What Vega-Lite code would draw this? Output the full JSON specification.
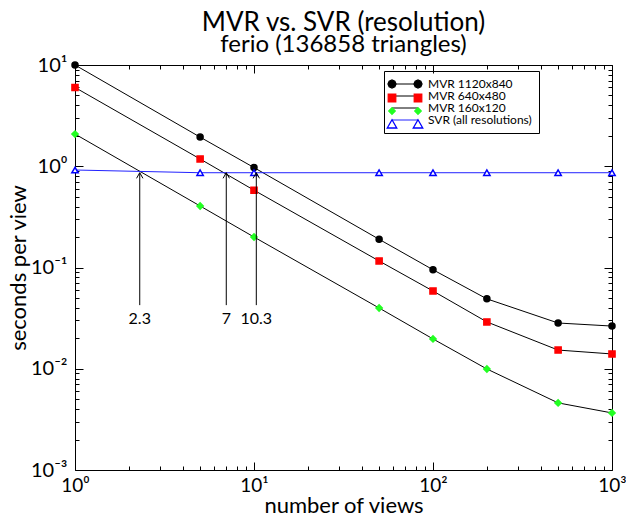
{
  "$schema": "https://vega.github.io/schema/vega-lite/v6.json",
  "width": 537,
  "height": 405,
  "autosize": {"type": "none"},
  "padding": {"left": 75, "top": 65, "right": 14, "bottom": 52},
  "background": "white",
  "title": {
    "text": "MVR vs. SVR (resolution)",
    "subtitle": "ferio (136858 triangles)",
    "font": "Lato",
    "subtitleFont": "Lato",
    "fontSize": 26,
    "subtitleFontSize": 24,
    "fontWeight": "normal",
    "color": "black",
    "subtitleColor": "black",
    "subtitlePadding": -3,
    "anchor": "middle",
    "offset": -2
  },
  "datasets": {
    "perf": [
      {"series": "MVR 1120x840", "views": 1, "spv": 10},
      {"series": "MVR 1120x840", "views": 5, "spv": 1.94},
      {"series": "MVR 1120x840", "views": 10, "spv": 0.97},
      {"series": "MVR 1120x840", "views": 50, "spv": 0.19},
      {"series": "MVR 1120x840", "views": 100, "spv": 0.095},
      {"series": "MVR 1120x840", "views": 200, "spv": 0.049},
      {"series": "MVR 1120x840", "views": 500, "spv": 0.0283},
      {"series": "MVR 1120x840", "views": 1000, "spv": 0.0264},
      {"series": "MVR 640x480", "views": 1, "spv": 6.0},
      {"series": "MVR 640x480", "views": 5, "spv": 1.18},
      {"series": "MVR 640x480", "views": 10, "spv": 0.58},
      {"series": "MVR 640x480", "views": 50, "spv": 0.116},
      {"series": "MVR 640x480", "views": 100, "spv": 0.0586},
      {"series": "MVR 640x480", "views": 200, "spv": 0.029},
      {"series": "MVR 640x480", "views": 500, "spv": 0.0153},
      {"series": "MVR 640x480", "views": 1000, "spv": 0.014},
      {"series": "MVR 160x120", "views": 1, "spv": 2.08},
      {"series": "MVR 160x120", "views": 5, "spv": 0.405},
      {"series": "MVR 160x120", "views": 10, "spv": 0.2},
      {"series": "MVR 160x120", "views": 50, "spv": 0.0398},
      {"series": "MVR 160x120", "views": 100, "spv": 0.0197},
      {"series": "MVR 160x120", "views": 200, "spv": 0.00995},
      {"series": "MVR 160x120", "views": 500, "spv": 0.0046},
      {"series": "MVR 160x120", "views": 1000, "spv": 0.00366},
      {"series": "SVR (all resolutions)", "views": 1, "spv": 0.918},
      {"series": "SVR (all resolutions)", "views": 5, "spv": 0.863},
      {"series": "SVR (all resolutions)", "views": 10, "spv": 0.863},
      {"series": "SVR (all resolutions)", "views": 50, "spv": 0.863},
      {"series": "SVR (all resolutions)", "views": 100, "spv": 0.863},
      {"series": "SVR (all resolutions)", "views": 200, "spv": 0.863},
      {"series": "SVR (all resolutions)", "views": 500, "spv": 0.863},
      {"series": "SVR (all resolutions)", "views": 1000, "spv": 0.863}
    ],
    "arrows": [
      {"x": 2.3, "lo": 0.0425, "hi": 0.863, "label": "2.3"},
      {"x": 7, "lo": 0.0425, "hi": 0.863, "label": "7"},
      {"x": 10.3, "lo": 0.0425, "hi": 0.863, "label": "10.3"}
    ]
  },
  "layer": [
    {
      "data": {"name": "perf"},
      "mark": {"type": "line", "strokeWidth": 1},
      "encoding": {
        "x": {"field": "views", "type": "quantitative", "scale": {"type": "log", "domain": [1, 1000]},
          "axis": {"orient": "bottom", "values": [1, 10, 100, 1000], "ticks": false, "labelFontSize": 19, "labelPadding": 6, "labelOffset": 0, "labelFlush": false, "labelOverlap": false,
            "labelExpr": "round(log(datum.value)/LN10) == 0 ? '10⁰' : round(log(datum.value)/LN10) == 1 ? '10¹' : round(log(datum.value)/LN10) == 2 ? '10²' : '10³'",
            "title": "number of views", "titleFontSize": 22, "titlePadding": 0}},
        "y": {"field": "spv", "type": "quantitative", "scale": {"type": "log", "domain": [0.001, 10]},
          "axis": {"orient": "left", "values": [0.001, 0.01, 0.1, 1, 10], "ticks": false, "labelFontSize": 20, "labelPadding": 8, "labelFlush": false, "labelOverlap": false,
            "labelExpr": "round(log(datum.value)/LN10) == 0 ? '10⁰' : round(log(datum.value)/LN10) == 1 ? '10¹' : round(log(datum.value)/LN10) == -1 ? '10⁻¹' : round(log(datum.value)/LN10) == -2 ? '10⁻²' : '10⁻³'",
            "title": "seconds per view", "titleFontSize": 22, "titlePadding": 0}},
        "stroke": {"field": "series", "type": "nominal",
          "scale": {"domain": ["MVR 1120x840", "MVR 640x480", "MVR 160x120", "SVR (all resolutions)"], "range": ["black", "black", "black", "#2222ff"]},
          "legend": null}
      }
    },
    {
      "data": {"name": "perf"},
      "mark": {"type": "point", "filled": true, "strokeWidth": 1.5, "opacity": 1},
      "encoding": {
        "x": {"field": "views", "type": "quantitative", "scale": {"type": "log", "domain": [1, 1000]},
          "axis": {"orient": "bottom", "values": [1, 10, 100, 1000], "labels": false, "tickSize": -8, "title": null}},
        "y": {"field": "spv", "type": "quantitative", "scale": {"type": "log", "domain": [0.001, 10]},
          "axis": {"orient": "left", "values": [0.001, 0.01, 0.1, 1, 10], "labels": false, "tickSize": -8, "title": null}},
        "shape": {"field": "series", "type": "nominal",
          "scale": {"domain": ["MVR 1120x840", "MVR 640x480", "MVR 160x120", "SVR (all resolutions)"], "range": ["circle", "square", "diamond", "triangle-up"]},
          "legend": null},
        "fill": {"field": "series", "type": "nominal",
          "scale": {"domain": ["MVR 1120x840", "MVR 640x480", "MVR 160x120", "SVR (all resolutions)"], "range": ["black", "#ff0000", "#22ff22", "white"]},
          "legend": null},
        "stroke": {"field": "series", "type": "nominal",
          "scale": {"domain": ["MVR 1120x840", "MVR 640x480", "MVR 160x120", "SVR (all resolutions)"], "range": ["black", "#ff0000", "#22ff22", "#0000ff"]},
          "legend": null},
        "size": {"field": "series", "type": "nominal",
          "scale": {"domain": ["MVR 1120x840", "MVR 640x480", "MVR 160x120", "SVR (all resolutions)"], "range": [36, 40, 22, 75]},
          "legend": null}
      }
    },
    {
      "data": {"name": "arrows"},
      "mark": {"type": "rule", "color": "black", "strokeWidth": 1},
      "encoding": {
        "x": {"field": "x", "type": "quantitative", "scale": {"type": "log", "domain": [1, 1000]},
          "axis": {"orient": "bottom", "values": [2,3,4,5,6,7,8,9,20,30,40,50,60,70,80,90,200,300,400,500,600,700,800,900], "labels": false, "tickSize": -4, "title": null}},
        "y": {"field": "lo", "type": "quantitative", "scale": {"type": "log", "domain": [0.001, 10]},
          "axis": {"orient": "left", "values": [0.002,0.003,0.004,0.005,0.006,0.007,0.008,0.009,0.02,0.03,0.04,0.05,0.06,0.07,0.08,0.09,0.2,0.3,0.4,0.5,0.6,0.7,0.8,0.9,2,3,4,5,6,7,8,9], "labels": false, "tickSize": -4, "title": null}},
        "y2": {"field": "hi"}
      }
    },
    {
      "data": {"name": "arrows"},
      "mark": {"type": "point", "shape": "M-0.8,1.4L0,0L0.8,1.4", "size": 64, "filled": false, "stroke": "black", "strokeWidth": 1, "opacity": 1},
      "encoding": {
        "x": {"field": "x", "type": "quantitative", "scale": {"type": "log", "domain": [1, 1000]},
          "axis": {"orient": "top", "values": [1, 10, 100, 1000], "labels": false, "tickSize": -8, "title": null}},
        "y": {"field": "hi", "type": "quantitative", "scale": {"type": "log", "domain": [0.001, 10]},
          "axis": {"orient": "right", "values": [0.001, 0.01, 0.1, 1, 10], "labels": false, "tickSize": -8, "title": null}}
      }
    },
    {
      "data": {"name": "arrows"},
      "mark": {"type": "text", "font": "Lato", "fontSize": 16, "baseline": "top", "align": "center", "dy": 6, "color": "black"},
      "encoding": {
        "x": {"field": "x", "type": "quantitative", "scale": {"type": "log", "domain": [1, 1000]},
          "axis": {"orient": "top", "values": [2,3,4,5,6,7,8,9,20,30,40,50,60,70,80,90,200,300,400,500,600,700,800,900], "labels": false, "tickSize": -4, "title": null}},
        "y": {"field": "lo", "type": "quantitative", "scale": {"type": "log", "domain": [0.001, 10]},
          "axis": {"orient": "right", "values": [0.002,0.003,0.004,0.005,0.006,0.007,0.008,0.009,0.02,0.03,0.04,0.05,0.06,0.07,0.08,0.09,0.2,0.3,0.4,0.5,0.6,0.7,0.8,0.9,2,3,4,5,6,7,8,9], "labels": false, "tickSize": -4, "title": null}},
        "text": {"field": "label"}
      }
    },
    {
      "data": {"name": "perf"},
      "transform": [{"filter": "datum.views < 0"}],
      "mark": {"type": "point", "filled": false, "opacity": 1},
      "encoding": {
        "shape": {"field": "series", "type": "nominal",
          "scale": {"domain": ["MVR 1120x840", "MVR 640x480", "MVR 160x120", "SVR (all resolutions)"], "range": ["M-3.25,0L3.25,0", "M-3.25,0L3.25,0", "M-3.25,0L3.25,0", "M-3.25,0L3.25,0"]},
          "legend": {"orient": "none", "legendX": 309, "legendY": 6, "title": null, "strokeColor": "black", "padding": 7, "labelFont": "Lato", "labelFontSize": 12, "labelColor": "black", "symbolSize": 64, "symbolStrokeWidth": 1, "symbolOffset": 8, "labelOffset": 17, "rowPadding": 0, "zindex": 1}},
        "stroke": {"field": "series", "type": "nominal",
          "scale": {"domain": ["MVR 1120x840", "MVR 640x480", "MVR 160x120", "SVR (all resolutions)"], "range": ["black", "black", "black", "#2222ff"]},
          "legend": {"orient": "none", "legendX": 309, "legendY": 6, "title": null, "strokeColor": "black", "padding": 7, "labelFont": "Lato", "labelFontSize": 12, "labelColor": "black", "symbolSize": 64, "symbolStrokeWidth": 1, "symbolOffset": 8, "labelOffset": 17, "rowPadding": 0, "zindex": 1}}
      }
    },
    {
      "data": {"name": "perf"},
      "transform": [{"filter": "datum.views < 0"}],
      "mark": {"type": "point", "filled": true, "opacity": 1},
      "encoding": {
        "shape": {"field": "series", "type": "nominal",
          "scale": {"domain": ["MVR 1120x840", "MVR 640x480", "MVR 160x120", "SVR (all resolutions)"], "range": [
            "M-2.25,0L-2.543,0.707L-3.25,1L-3.957,0.707L-4.25,0L-3.957,-0.707L-3.25,-1L-2.543,-0.707ZM4.25,0L3.957,0.707L3.25,1L2.543,0.707L2.25,0L2.543,-0.707L3.25,-1L3.957,-0.707Z",
            "M-4.19,-0.94L-2.31,-0.94L-2.31,0.94L-4.19,0.94ZM2.31,-0.94L4.19,-0.94L4.19,0.94L2.31,0.94Z",
            "M-3.25,-0.81L-2.44,0L-3.25,0.81L-4.06,0ZM3.25,-0.81L4.06,0L3.25,0.81L2.44,0Z",
            "M-3.25,-1.06L-2.06,1L-4.44,1ZM3.25,-1.06L4.44,1L2.06,1Z"]},
          "legend": {"orient": "none", "legendX": 309, "legendY": 6, "title": null, "padding": 7, "labelFont": "Lato", "labelFontSize": 12, "labelOpacity": 0, "symbolSize": 64, "symbolStrokeWidth": 1.3, "symbolOffset": 8, "labelOffset": 17, "rowPadding": 0, "zindex": 2}},
        "fill": {"field": "series", "type": "nominal",
          "scale": {"domain": ["MVR 1120x840", "MVR 640x480", "MVR 160x120", "SVR (all resolutions)"], "range": ["black", "#ff0000", "#22ff22", "white"]},
          "legend": {"orient": "none", "legendX": 309, "legendY": 6, "title": null, "padding": 7, "labelFont": "Lato", "labelFontSize": 12, "labelOpacity": 0, "symbolSize": 64, "symbolStrokeWidth": 1.3, "symbolOffset": 8, "labelOffset": 17, "rowPadding": 0, "zindex": 2}},
        "stroke": {"field": "series", "type": "nominal",
          "scale": {"domain": ["MVR 1120x840", "MVR 640x480", "MVR 160x120", "SVR (all resolutions)"], "range": ["black", "#ff0000", "#22ff22", "#0000ff"]},
          "legend": {"orient": "none", "legendX": 309, "legendY": 6, "title": null, "padding": 7, "labelFont": "Lato", "labelFontSize": 12, "labelOpacity": 0, "symbolSize": 64, "symbolStrokeWidth": 1.3, "symbolOffset": 8, "labelOffset": 17, "rowPadding": 0, "zindex": 2}}
      }
    }
  ],
  "resolve": {
    "axis": {"x": "independent", "y": "independent"},
    "scale": {"shape": "independent", "fill": "independent", "stroke": "independent", "size": "independent"},
    "legend": {"shape": "independent", "fill": "independent", "stroke": "independent", "size": "independent"}
  },
  "config": {
    "view": {"stroke": "black", "strokeWidth": 1},
    "axis": {"grid": false, "domain": false, "tickColor": "black", "tickWidth": 1, "labelColor": "black", "titleColor": "black", "labelFont": "Lato", "titleFont": "Lato", "titleFontWeight": "normal"}
  }
}
